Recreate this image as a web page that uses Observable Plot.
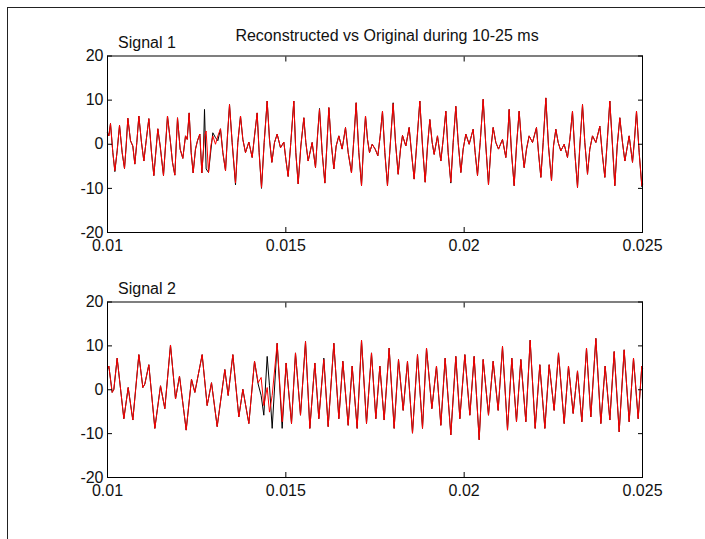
<!DOCTYPE html>
<html>
<head>
<meta charset="utf-8">
<script src="https://cdn.jsdelivr.net/npm/d3@7"></script>
<script src="https://cdn.jsdelivr.net/npm/@observablehq/plot@0.6"></script>
<style>
  body { margin: 0; background: #fff; }
  #fig { position: relative; width: 705px; height: 539px; overflow: hidden;
         font-family: "Liberation Sans", Arial, Helvetica, sans-serif; background: #fff; }
  #edge { position: absolute; left: 7px; top: 7px; right: -4px; bottom: -4px;
          border-left: 1px solid #222; border-top: 1px solid #222; }
  .txt { position: absolute; white-space: nowrap; font-size: 16px; line-height: 16px; color: #111; }
  .panel { position: absolute; left: 0; }
</style>
</head>
<body>
<div id="fig">
  <div id="edge"></div>
  <div class="txt" id="title" style="left:387px; top:28px; transform:translateX(-50%);">Reconstructed vs Original during 10-25 ms</div>
  <div class="txt" style="left:118px; top:35px;">Signal 1</div>
  <div class="txt" style="left:118px; top:281px;">Signal 2</div>
  <div class="panel" id="p1" style="top:0px;"></div>
  <div class="panel" id="p2" style="top:270px;"></div>
</div>
<script>
// Axis ticks
const xTicks = [0.01, 0.015, 0.02, 0.025];
const xTickLabels = ["0.01", "0.015", "0.02", "0.025"];
const yTicks = [-20, -10, 0, 10, 20];

// Signal 1: sample times (ms), original and reconstructed values
const s1Time = [
  10.000,10.037,10.084,10.150,10.206,10.271,10.337,10.411,10.477,10.523,10.570,10.645,10.710,10.766,10.822,10.879,
  10.953,11.019,11.084,11.159,11.234,11.299,11.346,11.411,11.477,11.570,11.626,11.682,11.766,11.822,11.888,11.925,
  11.963,12.037,12.112,12.187,12.234,12.290,12.346,12.402,12.467,12.523,12.589,12.645,12.692,12.720,12.766,12.832,
  12.897,12.953,13.028,13.094,13.168,13.234,13.309,13.364,13.421,13.495,13.589,13.654,13.729,13.795,13.869,13.963,
  14.056,14.122,14.196,14.252,14.318,14.393,14.477,14.542,14.608,14.683,14.757,14.851,14.944,15.000,15.065,15.140,
  15.224,15.280,15.346,15.421,15.505,15.561,15.626,15.738,15.832,15.888,15.944,16.019,16.094,16.150,16.206,16.271,
  16.346,16.411,16.486,16.579,16.673,16.748,16.841,16.907,16.972,17.047,17.122,17.178,17.234,17.290,17.346,17.421,
  17.505,17.580,17.645,17.710,17.776,17.850,17.925,18.009,18.075,18.150,18.215,18.271,18.364,18.458,18.523,18.598,
  18.673,18.757,18.832,18.907,18.972,19.037,19.103,19.159,19.252,19.346,19.411,19.486,19.551,19.626,19.692,19.766,
  19.832,19.907,19.972,20.047,20.140,20.252,20.308,20.374,20.449,20.533,20.608,20.682,20.748,20.813,20.888,20.963,
  21.075,21.168,21.215,21.262,21.327,21.402,21.467,21.542,21.607,21.682,21.748,21.822,21.916,22.028,22.084,22.150,
  22.215,22.290,22.364,22.449,22.505,22.570,22.636,22.710,22.804,22.897,22.963,23.037,23.103,23.178,23.243,23.318,
  23.383,23.458,23.523,23.598,23.692,23.804,23.869,23.944,24.009,24.084,24.159,24.224,24.290,24.364,24.439,24.505,
  24.626,24.720,24.776,24.832,24.907,24.981,25.000
];
const s1Original = [
  2.6,1.9,4.7,-1.9,-6.2,-1.5,4.3,-1.9,-5.5,-0.4,5.9,0.8,-0.4,-4.5,0.4,6.4,
  0.4,-3.8,0.8,5.8,-1.9,-7.1,-2.6,3.5,-0.4,-7.1,-0.4,6.4,0.4,-4.1,-7.0,-0.4,
  6.0,-1.1,-3.2,1.9,1.1,7.1,-1.9,-6.5,-1.1,0.8,2.3,-6.5,-1.1,7.9,-5.6,-6.4,
  -1.5,2.6,1.5,0.8,3.5,-1.9,-6.0,1.9,9.0,0.4,-9.2,0.4,6.4,1.1,-1.9,0.5,
  -3.0,1.9,7.1,-1.9,-10.0,0.4,9.8,1.1,-4.1,0.4,2.3,-0.8,0.5,-3.4,-7.3,0.4,
  9.8,-1.9,-9.0,-0.4,6.0,0.4,-3.8,0.4,-5.3,1.9,8.1,-1.9,-8.8,-0.4,8.3,0.4,
  -5.6,-0.4,1.9,-1.1,3.8,-1.9,-6.5,1.1,9.4,-1.9,-9.4,-0.4,6.4,1.1,-1.9,0.0,
  -1.1,-2.6,1.9,7.5,-1.9,-9.4,-0.4,9.4,0.4,-6.8,-1.1,2.0,-0.4,3.8,-1.9,-7.9,
  0.4,9.8,-0.4,-8.6,-0.4,5.6,0.4,-2.3,1.9,-3.8,1.1,7.5,-1.9,-8.8,0.4,8.6,
  0.4,-6.4,-1.1,2.3,0.0,3.4,-1.9,-7.1,0.4,10.2,-0.4,-9.2,-1.1,3.8,0.4,-1.1,
  1.1,-3.0,1.1,7.9,-1.9,-9.4,-0.4,7.5,0.4,-5.3,-1.1,1.9,0.4,3.8,-1.9,-7.5,
  0.4,10.5,-0.4,-8.3,-0.4,3.4,0.4,-1.5,0.0,-3.0,1.1,7.5,-1.9,-9.8,-0.4,9.0,
  0.4,-6.8,-1.1,1.9,0.4,4.1,-1.9,-7.5,0.4,9.8,-0.4,-9.4,-0.4,6.0,0.4,-3.8,
  1.9,-4.1,1.1,7.5,-1.9,-9.6,-9.2
];
const s1Reconstructed = [
  2.6,1.9,4.7,-1.9,-6.0,-1.5,4.3,-1.9,-5.5,-0.4,5.9,0.8,-0.4,-4.5,0.4,6.4,
  0.4,-3.8,0.8,5.8,-1.9,-7.1,-2.6,3.5,-0.4,-7.1,-0.4,6.4,0.4,-4.1,-7.0,-0.4,
  6.0,-1.1,-3.2,1.9,1.1,7.1,-1.9,-6.5,-1.1,0.8,2.3,-6.5,-1.1,2.0,3.0,-6.4,
  -0.4,1.9,0.0,1.9,3.5,-1.9,-6.0,1.9,9.0,0.4,-8.8,0.4,6.4,1.1,-1.9,0.5,
  -3.0,1.9,7.1,-1.9,-9.8,0.4,9.8,1.1,-4.1,0.4,2.3,-0.8,0.5,-3.4,-7.3,0.4,
  9.8,-1.9,-9.0,-0.4,6.0,0.4,-3.8,0.4,-5.3,1.9,7.9,-1.9,-8.8,-0.4,8.3,0.4,
  -5.6,-0.4,1.9,-1.1,3.8,-1.9,-6.5,1.1,9.4,-1.9,-9.4,-0.4,6.4,1.1,-1.9,0.0,
  -1.1,-2.6,1.9,7.5,-1.9,-9.4,-0.4,9.2,0.4,-6.8,-1.1,2.0,-0.4,3.8,-1.9,-7.9,
  0.4,9.8,-0.4,-8.6,-0.4,5.6,0.4,-2.3,1.9,-3.8,1.1,7.5,-1.9,-8.6,0.4,8.6,
  0.4,-6.4,-1.1,2.3,0.0,3.4,-1.9,-7.1,0.4,10.2,-0.4,-9.2,-1.1,3.8,0.4,-1.1,
  1.1,-3.0,1.1,7.9,-1.9,-9.4,-0.4,7.5,0.4,-5.3,-1.1,1.9,0.4,3.8,-1.9,-7.5,
  0.4,10.5,-0.4,-8.3,-0.4,3.4,0.4,-1.5,0.0,-3.0,1.1,7.5,-1.9,-9.8,-0.4,9.0,
  0.4,-6.8,-1.1,1.9,0.4,4.1,-1.9,-7.5,0.4,9.8,-0.4,-9.4,-0.4,6.0,0.4,-3.8,
  1.9,-4.1,1.1,7.5,-1.9,-9.4,-9.0
];

// Signal 2: sample times (ms), original and reconstructed values
const s2Time = [
  10.000,10.037,10.131,10.178,10.271,10.458,10.580,10.710,10.879,10.991,11.047,11.159,11.327,11.486,11.607,11.766,
  11.907,12.019,12.206,12.355,12.449,12.654,12.794,12.916,13.075,13.290,13.383,13.514,13.682,13.795,13.963,14.122,
  14.224,14.308,14.383,14.477,14.542,14.617,14.757,14.897,15.009,15.159,15.271,15.411,15.552,15.673,15.813,15.925,
  16.065,16.187,16.346,16.486,16.598,16.748,16.860,17.000,17.122,17.262,17.402,17.523,17.636,17.757,17.897,18.037,
  18.159,18.290,18.411,18.551,18.692,18.832,18.944,19.094,19.224,19.346,19.467,19.626,19.766,19.879,20.019,20.159,
  20.280,20.421,20.533,20.682,20.813,20.953,21.075,21.215,21.336,21.467,21.589,21.729,21.850,21.991,22.121,22.262,
  22.383,22.523,22.645,22.804,22.925,23.056,23.178,23.299,23.430,23.551,23.692,23.832,23.953,24.084,24.206,24.346,
  24.486,24.626,24.748,24.879,24.981,25.000
];
const s2Original = [
  4.6,5.4,-0.6,0.1,7.2,-6.6,0.5,-6.9,8.0,0.5,1.3,5.7,-8.8,0.9,-4.3,10.2,
  -2.1,3.1,-9.2,2.4,-0.6,8.0,-3.6,1.6,-8.4,4.6,-1.3,8.0,-6.2,0.1,-7.7,6.5,
  1.3,-1.3,-5.8,7.6,0.9,-8.8,10.6,-8.8,6.1,-7.7,8.4,-5.8,11.0,-8.8,6.1,-6.6,
  7.2,-8.4,10.6,-6.6,6.5,-8.1,5.4,-8.8,11.3,-7.7,8.4,-6.6,5.4,-6.9,9.5,-8.8,
  6.9,-4.7,6.5,-9.9,8.0,-8.8,9.5,-4.3,5.4,-8.1,7.2,-10.3,7.6,-6.6,8.0,-5.8,
  7.6,-11.4,6.9,-5.8,6.5,-4.7,9.9,-9.2,7.2,-7.3,6.9,-7.3,11.3,-8.8,5.7,-8.8,
  5.7,-4.7,8.4,-7.7,5.4,-5.4,4.3,-7.3,9.5,-6.2,11.7,-7.7,5.4,-6.9,8.7,-9.6,
  9.1,-7.3,7.2,-6.6,5.4,5.0
];
const s2Reconstructed = [
  4.6,5.4,-0.6,0.1,7.2,-6.6,0.5,-6.9,8.0,0.5,1.3,5.7,-8.8,0.9,-4.3,10.2,
  -2.1,3.1,-9.2,2.4,-0.6,8.0,-3.6,1.6,-8.4,4.6,-1.3,8.0,-6.2,0.1,-7.7,6.5,
  1.6,2.8,-3.6,0.5,-5.1,-1.3,10.6,-7.3,6.1,-7.7,8.4,-5.8,11.0,-8.8,6.1,-6.6,
  6.9,-8.4,10.6,-6.6,6.5,-8.1,5.4,-8.8,11.3,-7.7,8.4,-6.6,5.4,-6.9,9.5,-8.8,
  6.9,-4.7,6.5,-9.9,8.0,-8.8,9.5,-4.3,5.4,-8.1,7.2,-10.3,7.6,-6.6,8.0,-5.8,
  7.6,-11.4,6.9,-5.8,6.5,-4.7,9.9,-9.2,7.2,-7.3,6.9,-7.3,11.3,-8.8,5.7,-8.8,
  5.7,-4.7,8.4,-7.7,5.4,-5.4,4.3,-7.3,9.5,-6.2,11.7,-7.7,5.4,-6.9,8.7,-9.6,
  9.1,-7.3,7.2,-6.6,5.4,5.0
];

function table(time, orig, recon) {
  return time.map((t, i) => ({t: t / 1000, orig: orig[i], recon: recon[i]}));
}

function panel(data, {height, marginTop, marginBottom}) {
  const tickSize = -5;
  return Plot.plot({
    width: 705,
    height,
    marginLeft: 107,
    marginRight: 63,
    marginTop,
    marginBottom,
    style: {fontFamily: '"Liberation Sans", Arial, Helvetica, sans-serif', fontSize: "16px", background: "transparent", overflow: "visible", color: "#111"},
    x: {domain: [0.01, 0.025]},
    y: {domain: [-20, 20]},
    marks: [
      Plot.line(data, {x: "t", y: "orig", stroke: "#000", strokeWidth: 1}),
      Plot.line(data, {x: "t", y: "recon", stroke: "#f00", strokeWidth: 1}),
      Plot.frame({stroke: "#000", strokeWidth: 1}),
      Plot.axisX({anchor: "bottom", ticks: xTicks, tickSize, tickPadding: 12, stroke: "#000",
                  tickFormat: (d, i) => xTickLabels[i], label: null}),
      Plot.axisX({anchor: "top", ticks: xTicks, tickSize, tickFormat: () => "", label: null, stroke: "#000"}),
      Plot.axisY({anchor: "left", ticks: yTicks, tickSize, tickPadding: 9, stroke: "#000",
                  tickFormat: d => String(d), label: null}),
      Plot.axisY({anchor: "right", ticks: yTicks, tickSize, tickFormat: () => "", label: null, stroke: "#000"})
    ]
  });
}

document.getElementById("p1").append(
  panel(table(s1Time, s1Original, s1Reconstructed), {height: 270, marginTop: 55.5, marginBottom: 38})
);
document.getElementById("p2").append(
  panel(table(s2Time, s2Original, s2Reconstructed), {height: 269, marginTop: 31.5, marginBottom: 62})
);
</script>
</body>
</html>
